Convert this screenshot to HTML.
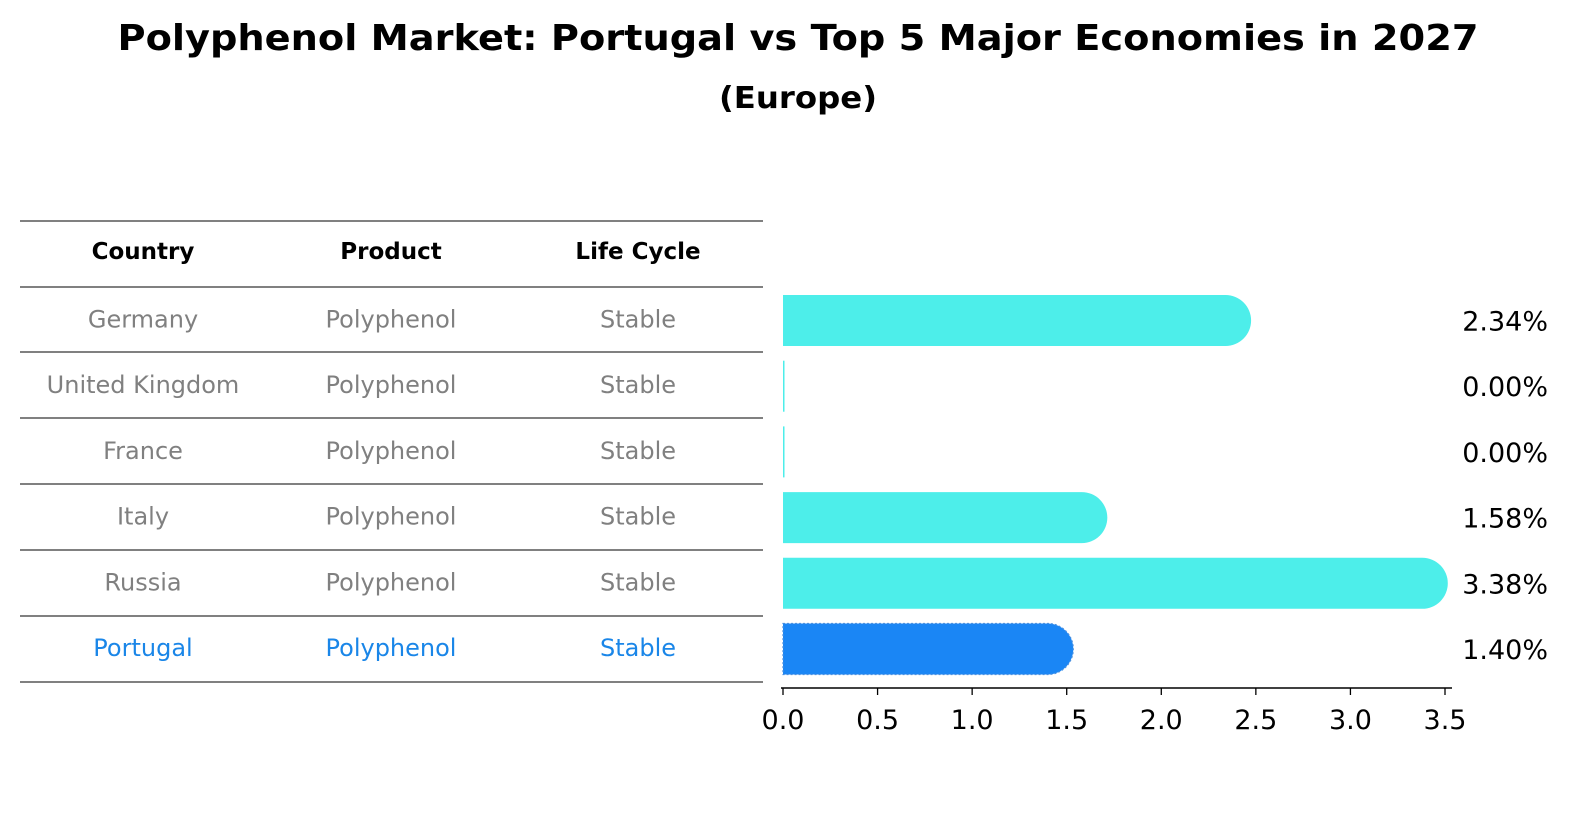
<!DOCTYPE html>
<html><head><meta charset="utf-8"><style>
html,body{margin:0;padding:0;overflow:hidden;background:#fff;width:1586px;height:823px;}
svg{display:block;}
</style></head><body>
<svg width="1586" height="823" xmlns="http://www.w3.org/2000/svg" font-family="DejaVu Sans, Liberation Sans, sans-serif">
<text x="798" y="50" text-anchor="middle" font-size="36" font-weight="bold" textLength="1361" lengthAdjust="spacingAndGlyphs">Polyphenol Market: Portugal vs Top 5 Major Economies in 2027</text>
<text x="798" y="108" text-anchor="middle" font-size="30" font-weight="bold" textLength="158" lengthAdjust="spacingAndGlyphs">(Europe)</text>
<g id="table"></g>
<g id="bars"></g>
</svg>
<script>
const countries=["Germany","United Kingdom","France","Italy","Russia","Portugal"];
const products=["Polyphenol","Polyphenol","Polyphenol","Polyphenol","Polyphenol","Polyphenol"];
const lifeCycles=["Stable","Stable","Stable","Stable","Stable","Stable"];
const values=[2.34,0.00,0.00,1.58,3.38,1.40];
const tickLabels=["0.0","0.5","1.0","1.5","2.0","2.5","3.0","3.5"];
const ticks=[0,0.5,1,1.5,2,2.5,3,3.5];
const NS="http://www.w3.org/2000/svg";
function mk(tag,attrs,parent,txt){const e=document.createElementNS(NS,tag);for(const k in attrs)e.setAttribute(k,attrs[k]);if(txt!==undefined)e.textContent=txt;parent.appendChild(e);return e;}
const x=v=>783+v*(662/3.5);
const rowY=i=>320.5+i*65.7;
const tbl=document.getElementById('table');
const cols=[143,391,638];
const heads=["Country","Product","Life Cycle"];
for(let c=0;c<3;c++){const t=mk('text',{x:cols[c],y:259,'text-anchor':'middle','font-size':'23','font-weight':'bold'},tbl,heads[c]);

}
const lineYs=[221,287,352,418,484,550,616,682];
lineYs.forEach(y=>{const l=mk('line',{x1:20,x2:763,y1:y,y2:y,stroke:'#000','stroke-width':1},tbl);

});
for(let i=0;i<countries.length;i++){
 const col=i===countries.length-1?'#1a86e8':'#808080';
 [countries[i],products[i],lifeCycles[i]].forEach((s,c)=>{
  const t=mk('text',{x:cols[c],y:rowY(i)+7,'text-anchor':'middle','font-size':'24',fill:col},tbl,s);
  
  
 });
}
const g=document.getElementById('bars');
const h=51,r=25.5;
for(let i=0;i<values.length;i++){
 const last=i===values.length-1;
 const fill=last?'#1a86f5':'#4deeea';
 const x0=x(0),x1=x(values[i]),cy=rowY(i),top=cy-h/2;
 let d;
 if(values[i]>0) d=`M${x0},${top} H${x1} A${r},${r} 0 0 1 ${x1},${top+h} H${x0} Z`;
 else d=`M${x0},${top} H${x0+1.5} V${top+h} H${x0} Z`;
 const p=mk('path',{d:d,fill:fill},g);
 if(last){p.setAttribute('stroke','#4a90e0');p.setAttribute('stroke-dasharray','2,2');p.setAttribute('stroke-width','1.2');}
 
 
 const t=mk('text',{x:1548,y:cy+10,'text-anchor':'end','font-size':'27'},g,values[i].toFixed(2)+'%');
 
 
}
const ax=mk('line',{x1:781,x2:1452,y1:688,y2:688,stroke:'#000','stroke-width':1.5},g);


ticks.forEach((v,j)=>{
 const l=mk('line',{x1:x(v),x2:x(v),y1:688,y2:695,stroke:'#000','stroke-width':1.3},g);
 
 
 const t=mk('text',{x:x(v),y:729,'text-anchor':'middle','font-size':'27'},g,tickLabels[j]);
 
 
});
</script>
</body></html>
